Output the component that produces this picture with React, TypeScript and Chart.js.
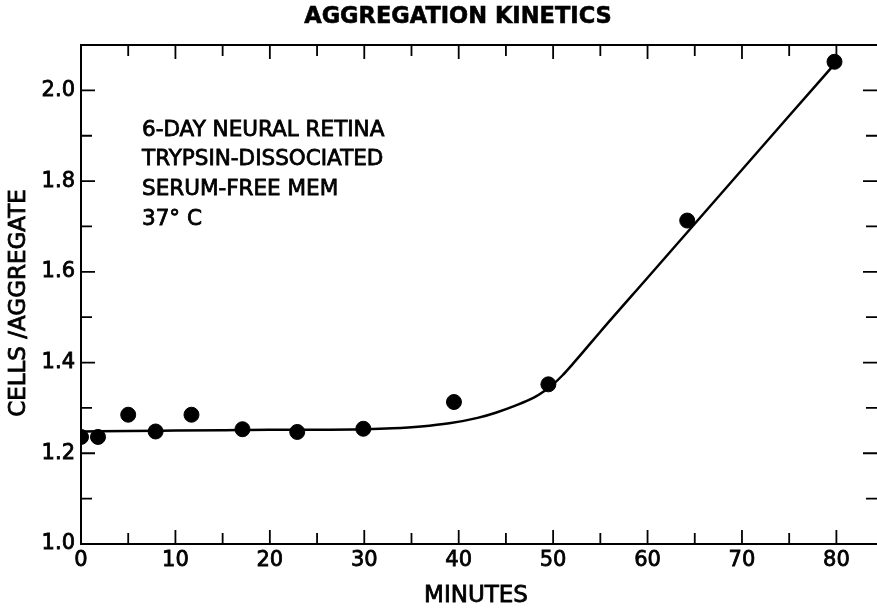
import React, { useEffect, useRef } from "react";
import { Chart, registerables } from "chart.js";

Chart.register(...registerables);

const pointMinutes = [0, 1.8, 5, 7.9, 11.7, 17.1, 22.9, 29.9, 39.5, 49.5, 64.2, 79.8];
const pointCells = [1.236, 1.236, 1.285, 1.248, 1.285, 1.253, 1.247, 1.254, 1.313, 1.352, 1.713, 2.063];

const curveMinutes = [0.3, 5, 10, 15, 20, 25, 30, 33, 36, 39, 42, 44, 46, 48, 49, 50, 51, 52, 53, 55, 60, 65, 70, 75, 79.8];
const curveCells = [1.248, 1.249, 1.25, 1.251, 1.252, 1.252, 1.253, 1.255, 1.259, 1.266, 1.278, 1.29, 1.305, 1.323, 1.336, 1.352, 1.372, 1.395, 1.419, 1.468, 1.587, 1.706, 1.825, 1.944, 2.058];

const xTickLabels = [0, 10, 20, 30, 40, 50, 60, 70, 80];
const yTickLabels = [1.0, 1.2, 1.4, 1.6, 1.8, 2.0];
const xMinorTicks = [5, 15, 25, 35, 45, 55, 65, 75];
const yMinorTicks = [1.1, 1.3, 1.5, 1.7, 1.9];

const title = "AGGREGATION KINETICS";
const xTitle = "MINUTES";
const yTitle = "CELLS /AGGREGATE";
const noteLines = ["6-DAY NEURAL RETINA", "TRYPSIN-DISSOCIATED", "SERUM-FREE MEM", "37° C"];

const FONT = "'DejaVu Sans', 'Liberation Sans', sans-serif";

export default function App() {
  const ref = useRef<HTMLCanvasElement | null>(null);

  useEffect(() => {
    const canvas = ref.current;
    if (!canvas) return;

    const decor = {
      id: "decor",
      afterDraw(chart: any) {
        const ctx = chart.ctx;
        const a = chart.chartArea;
        const xs = chart.scales.x;
        const ys = chart.scales.y;
        ctx.save();
        ctx.strokeStyle = "#000";
        ctx.fillStyle = "#000";
        // frame top (right border falls outside the picture)
        ctx.lineWidth = 2;
        ctx.beginPath();
        ctx.moveTo(a.left, a.top);
        ctx.lineTo(877, a.top);
        ctx.stroke();
        // inward ticks
        const tickX = (v: number, len: number) => {
          const px = xs.getPixelForValue(v);
          ctx.beginPath();
          ctx.moveTo(px, a.bottom);
          ctx.lineTo(px, a.bottom - len);
          ctx.moveTo(px, a.top);
          ctx.lineTo(px, a.top + len);
          ctx.stroke();
        };
        const tickY = (v: number, len: number) => {
          const py = ys.getPixelForValue(v);
          ctx.beginPath();
          ctx.moveTo(a.left, py);
          ctx.lineTo(a.left + len, py);
          ctx.moveTo(877, py);
          ctx.lineTo(877 - len, py);
          ctx.stroke();
        };
        ctx.lineWidth = 1.8;
        xTickLabels.forEach((v) => v > 0 && tickX(v, 14));
        xMinorTicks.forEach((v) => tickX(v, 11));
        yTickLabels.forEach((v) => v > 1 && tickY(v, 14));
        yMinorTicks.forEach((v) => tickY(v, 11));

        const txt = (t: string, x: number, y: number, sw: number) => {
          ctx.fillText(t, x, y);
          if (sw > 0) {
            ctx.lineWidth = sw;
            ctx.strokeText(t, x, y);
          }
        };
        // title
        ctx.font = `bold 22.5px ${FONT}`;
        ctx.textAlign = "center";
        ctx.textBaseline = "middle";
        txt(title, 458, 17, 0.6);
        // x title
        ctx.font = `23px ${FONT}`;
        txt(xTitle, 476, 596, 0.8);
        // y title
        ctx.save();
        ctx.translate(19, 303);
        ctx.rotate(-Math.PI / 2);
        txt(yTitle, 0, 0, 0.8);
        ctx.restore();
        // note
        ctx.font = `21.5px ${FONT}`;
        ctx.textAlign = "left";
        noteLines.forEach((t, i) => txt(t, 142, 130 + i * 29.8, 0.8));
        ctx.restore();
      },
    };

    const tickFont = { family: FONT, size: 21 };

    const chart = new Chart(canvas, {
      type: "scatter",
      data: {
        datasets: [
          {
            type: "line",
            data: curveMinutes.map((x, i) => ({ x, y: curveCells[i] })),
            borderColor: "#000",
            borderWidth: 2.5,
            pointRadius: 0,
            tension: 0.4,
            cubicInterpolationMode: "monotone",
            fill: false,
          } as any,
          {
            data: pointMinutes.map((x, i) => ({ x, y: pointCells[i] })),
            backgroundColor: "#000",
            borderColor: "#000",
            pointRadius: 7.5,
            pointHoverRadius: 7.5,
          },
        ],
      },
      options: {
        responsive: false,
        animation: false,
        events: [],
        layout: { autoPadding: false, padding: { left: 0, top: 45, right: 0, bottom: 0 } },
        plugins: { legend: { display: false }, tooltip: { enabled: false } },
        scales: {
          x: {
            type: "linear",
            min: 0,
            max: 84.3,
            afterBuildTicks: (s: any) => {
              s.ticks = xTickLabels.map((v) => ({ value: v }));
            },
            afterFit: (s: any) => {
              s.height = 65;
              s.paddingRight = 0;
              s.paddingLeft = 0;
            },
            ticks: {
              color: "#000",
              font: tickFont,
              padding: 4,
              maxRotation: 0,
              autoSkip: false,
              textStrokeColor: "#000",
              textStrokeWidth: 0.8,
              callback: (v: any) => String(v),
            },
            grid: { display: false, drawTicks: false },
            border: { display: true, color: "#000", width: 2 },
          },
          y: {
            type: "linear",
            min: 1.0,
            max: 2.1,
            afterBuildTicks: (s: any) => {
              s.ticks = yTickLabels.map((v) => ({ value: v }));
            },
            afterFit: (s: any) => {
              s.width = 81;
              s.paddingTop = 0;
              s.paddingBottom = 0;
            },
            ticks: {
              color: "#000",
              font: tickFont,
              padding: 6,
              autoSkip: false,
              textStrokeColor: "#000",
              textStrokeWidth: 0.8,
              callback: (v: any) => Number(v).toFixed(1),
            },
            grid: { display: false, drawTicks: false },
            border: { display: true, color: "#000", width: 2 },
          },
        },
      },
      plugins: [decor],
    });

    return () => chart.destroy();
  }, []);

  return (
    <div style={{ position: "absolute", left: 0, top: 0, width: 877, height: 609, background: "#fff" }}>
      <canvas ref={ref} width={877} height={609} />
    </div>
  );
}
